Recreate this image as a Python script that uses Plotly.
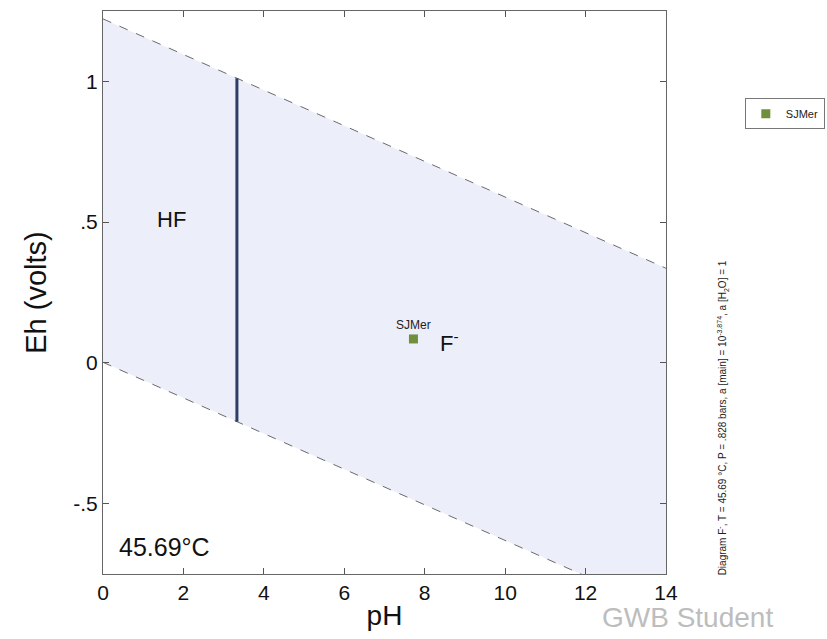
import plotly.graph_objects as go

# Data
ph_bounds = [0, 14]
upper_eh = [1.222, 0.336]     # O2/H2O stability line
lower_eh = [0.002, -0.884]    # H2O/H2 stability line
hf_boundary_ph = [3.33, 3.33]
hf_boundary_eh = [1.011, -0.209]
sample_name = ["SJMer"]
sample_ph = [7.72]
sample_eh = [0.085]
field_labels = ["HF", "F<sup>-</sup>"]
field_ph = [1.7, 8.62]
field_eh = [0.51, 0.075]
x_ticks = [0, 2, 4, 6, 8, 10, 12, 14]
y_ticks = [-0.5, 0, 0.5, 1]
y_tick_text = ["-.5", "0", ".5", "1"]

FONT = "Liberation Sans, Arial, sans-serif"

fig = go.Figure()

# water stability field (filled)
fig.add_trace(go.Scatter(
    x=ph_bounds + ph_bounds[::-1] + [ph_bounds[0]],
    y=upper_eh + lower_eh[::-1] + [upper_eh[0]],
    fill="toself", fillcolor="rgb(236,239,250)", mode="none",
    showlegend=False, hoverinfo="skip"))

for ys in (upper_eh, lower_eh):
    fig.add_trace(go.Scatter(x=ph_bounds, y=ys, mode="lines",
                             line=dict(color="#6a6a6a", width=1, dash="dash"),
                             showlegend=False, hoverinfo="skip"))

fig.add_trace(go.Scatter(x=hf_boundary_ph, y=hf_boundary_eh, mode="lines",
                         line=dict(color="#2e3d66", width=3),
                         showlegend=False))

fig.add_trace(go.Scatter(x=sample_ph, y=sample_eh, mode="markers+text",
                         name=sample_name[0], text=sample_name,
                         textposition="top center",
                         textfont=dict(size=12, color="#222", family=FONT),
                         marker=dict(symbol="square", size=9, color="#6f8f3a"),
                         showlegend=True))

for lab, px, py in zip(field_labels, field_ph, field_eh):
    fig.add_annotation(x=px, y=py, text=lab, showarrow=False,
                       font=dict(size=22, color="#111", family=FONT))

fig.add_annotation(x=0.025, y=0.048, xref="paper", yref="paper",
                   text="45.69°C", showarrow=False, xanchor="left", yanchor="middle",
                   font=dict(size=25, color="#111", family=FONT))

fig.add_annotation(x=1.1, y=0.277, xref="paper", yref="paper",
                   xanchor="center", yanchor="middle",
                   text="Diagram F<sup>-</sup>, T = 45.69 °C, P = .828 bars, a [main] = 10<sup>-3.874</sup>, a [H<sub>2</sub>O] = 1",
                   showarrow=False, textangle=-90,
                   font=dict(size=10, color="#222", family=FONT))

fig.add_annotation(x=1.039, y=-0.078, xref="paper", yref="paper",
                   text="GWB Student", showarrow=False, xanchor="center", yanchor="middle",
                   font=dict(size=28, color="#bdbdbd", family=FONT))

fig.update_layout(
    width=827, height=639,
    margin=dict(l=103, r=161, t=11, b=65, autoexpand=False),
    plot_bgcolor="white", paper_bgcolor="white",
    font=dict(family=FONT, color="#111"),
    legend=dict(x=1.14, y=0.845, xanchor="left", yanchor="top",
                bordercolor="#777", borderwidth=1,
                font=dict(size=11, color="#222", family=FONT),
                itemwidth=30),
)
fig.update_xaxes(range=[0, 14], tickvals=x_ticks, ticks="inside", ticklen=6,
                 tickcolor="#555", showline=True, linecolor="#666", linewidth=1,
                 mirror="ticks", showgrid=False, zeroline=False,
                 tickfont=dict(size=21, color="#111"),
                 title=dict(text="pH", font=dict(size=28, color="#111"), standoff=2))
fig.update_yaxes(range=[-0.75, 1.25], tickvals=y_ticks, ticktext=y_tick_text,
                 ticks="inside", ticklen=6, tickcolor="#555", showline=True,
                 linecolor="#666", linewidth=1, mirror="ticks", showgrid=False,
                 zeroline=False, tickfont=dict(size=21, color="#111"),
                 title=dict(text="Eh (volts)", font=dict(size=29, color="#111"), standoff=18))

fig.write_html("out.html")
